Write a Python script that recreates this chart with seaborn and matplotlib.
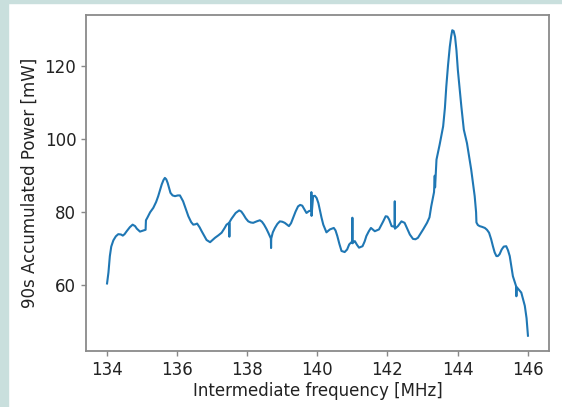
import numpy as np
import pandas as pd
import matplotlib
matplotlib.use('Agg')
import matplotlib.pyplot as plt
import seaborn as sns

# spectrum trace
freq = [134.00, 134.04, 134.08, 134.12, 134.18, 134.25, 134.32, 134.40, 134.45, 134.50,
        134.56, 134.65, 134.73, 134.80, 134.85, 134.94,
        135.04, 135.10, 135.11, 135.15, 135.23, 135.32, 135.40, 135.46, 135.52, 135.56,
        135.61, 135.65, 135.69, 135.73,
        135.81, 135.87, 135.94, 136.02, 136.08, 136.17, 136.25, 136.32, 136.40, 136.46,
        136.52, 136.57, 136.64, 136.70, 136.78, 136.84, 136.94,
        137.08, 137.18, 137.27, 137.35, 137.41, 137.485, 137.49, 137.495, 137.55, 137.67,
        137.77, 137.83, 137.89,
        137.96, 138.03, 138.10, 138.17, 138.27, 138.36, 138.42, 138.48, 138.55, 138.60,
        138.675, 138.68, 138.685, 138.73, 138.79,
        138.86, 138.93, 139.00, 139.07, 139.19, 139.25, 139.31, 139.38, 139.45, 139.51,
        139.57, 139.63, 139.69, 139.76, 139.825, 139.83,
        139.835, 139.88, 139.93, 139.98, 140.03, 140.07, 140.12, 140.17, 140.26, 140.36,
        140.47, 140.52, 140.57, 140.63, 140.69,
        140.78, 140.85, 140.91, 140.995, 141.00, 141.005, 141.07, 141.13, 141.19, 141.29,
        141.35, 141.40, 141.47, 141.53,
        141.64, 141.76, 141.82, 141.88, 141.95, 142.00, 142.05, 142.12, 142.205, 142.21,
        142.215, 142.30,
        142.40, 142.49, 142.57, 142.64, 142.73, 142.80, 142.87, 142.95, 143.02, 143.13,
        143.20, 143.25, 143.33, 143.35,
        143.36, 143.40, 143.49, 143.59, 143.64, 143.68, 143.73, 143.78, 143.82, 143.85,
        143.89, 143.93, 143.97, 144.01, 144.11,
        144.18, 144.27, 144.39, 144.49, 144.53, 144.54, 144.58, 144.63, 144.70, 144.78,
        144.84, 144.90, 144.96, 145.01,
        145.06, 145.11, 145.15, 145.20, 145.26, 145.32, 145.39, 145.44, 145.49, 145.58,
        145.67, 145.68, 145.69, 145.75, 145.82,
        145.92, 145.97, 146.01]
power = [60.5, 63.5, 68.0, 70.6, 72.3, 73.4, 74.0, 73.9, 73.6, 74.0,
         74.8, 75.9, 76.6, 76.2, 75.5, 74.7,
         75.0, 75.2, 77.8, 78.5, 80.0, 81.2, 82.8, 84.4, 86.3, 87.6,
         88.8, 89.4, 89.0, 88.0,
         85.3, 84.6, 84.4, 84.6, 84.6, 83.0, 80.8, 78.9, 77.3, 76.6,
         76.7, 76.9, 75.9, 74.8, 73.4, 72.4, 71.8,
         73.0, 73.7, 74.4, 75.6, 76.6, 77.1, 73.3, 77.3, 78.2, 79.8,
         80.5, 80.2, 79.4,
         78.3, 77.5, 77.2, 77.1, 77.5, 77.8, 77.4, 76.6, 75.4, 74.4,
         72.8, 70.2, 72.8, 74.5, 75.7,
         76.8, 77.5, 77.4, 77.1, 76.2, 77.0, 78.5, 80.2, 81.6, 82.0,
         81.8, 80.8, 79.8, 80.3, 80.5, 85.5,
         79.0, 84.4, 84.5, 83.9, 82.5, 80.7, 78.5, 76.6, 74.5, 75.3,
         75.7, 75.0, 73.5, 71.3, 69.4,
         69.1, 69.8, 71.2, 72.0, 78.5, 71.5, 72.1, 71.1, 70.3, 70.7,
         72.0, 73.5, 74.8, 75.7,
         74.8, 75.3, 76.4, 77.5, 78.9, 78.8, 78.0, 76.2, 76.0, 83.0,
         75.5, 76.2,
         77.5, 77.1, 75.4, 73.9, 72.7, 72.6, 73.0, 74.2, 75.3, 77.1,
         78.6, 81.6, 85.5, 90.0,
         86.8, 94.4, 98.5, 103.5, 108.5, 114.4, 120.3, 125.3, 128.2, 129.8,
         129.6, 128.0, 124.3, 118.9, 108.9,
         102.6, 98.9, 91.7, 84.4, 80.0, 77.2, 76.5, 76.2, 76.0, 75.7,
         75.2, 74.4, 72.6, 70.7,
         69.0, 68.0, 68.0, 68.5, 69.8, 70.6, 70.7, 69.6, 68.0, 62.5,
         59.8, 57.0, 59.5, 58.8, 58.0,
         54.4, 51.0, 46.2]

df = pd.DataFrame({'freq': freq, 'power': power})

fig = plt.figure(figsize=(5.62, 4.07), dpi=100)
fig.patch.set_facecolor('white')
# light teal frame of the screenshot on the left and top
teal = '#c9dfdd'
fig.patches.append(plt.Rectangle((0, 0), 8 / 562, 1, transform=fig.transFigure, color=teal, zorder=0))
fig.patches.append(plt.Rectangle((0, 1 - 3 / 407), 1, 3 / 407, transform=fig.transFigure, color=teal, zorder=0))

ax = fig.add_axes([86 / 562, 56 / 407, 463 / 562, 336 / 407])
sns.lineplot(data=df, x='freq', y='power', ax=ax, sort=False, estimator=None,
             color='#1f77b4', linewidth=1.5)

ax.set_xticks([134, 136, 138, 140, 142, 144, 146])
ax.set_yticks([60, 80, 100, 120])
ax.set_xlabel('Intermediate frequency [MHz]', fontsize=12, color='#222222', labelpad=2)
ax.set_ylabel('90s Accumulated Power [mW]', fontsize=12, color='#222222', labelpad=4)
ax.tick_params(labelsize=12, colors='#888888', labelcolor='#222222', width=1.0)
for s in ax.spines.values():
    s.set_color('#8a8a8a')
    s.set_linewidth(1.3)

fig.savefig('out.png', dpi=100)
